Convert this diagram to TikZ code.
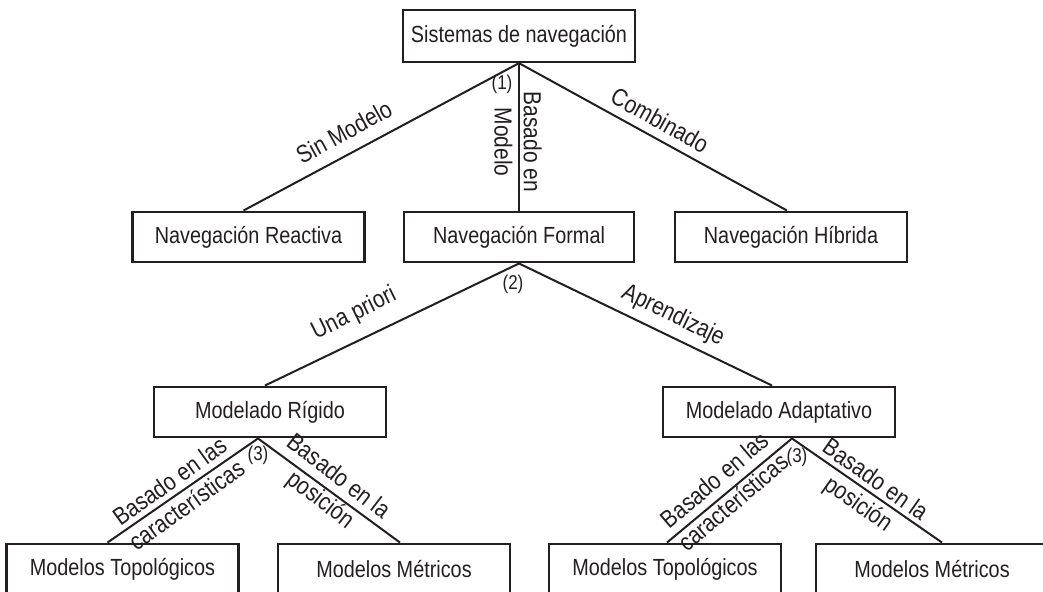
\documentclass[tikz,border=0pt]{standalone}
\usepackage{fontspec}
\setmainfont{Liberation Sans}[FakeStretch=0.85]
\usetikzlibrary{calc}

\definecolor{ink}{RGB}{35,31,32}
\tikzset{every picture/.style={line width=1.5pt}}
\tikzset{
  box/.style={draw=ink, text=ink, line width=1.7pt, inner sep=0pt,
    minimum width=174, minimum height=38, font=\fontsize{17.5}{21}\selectfont},
  lbl/.style={text=ink, inner sep=0pt, align=center,
    font=\fontsize{18.5}{22}\selectfont},
  num/.style={text=ink, inner sep=0pt, font=\fontsize{15}{18}\selectfont}
}

\begin{document}
\begin{tikzpicture}[x=0.75pt,y=0.75pt,yscale=-1,xscale=1]
\clip (0,0) rectangle (1043,592);

% Boxes
\draw (519,36) node [box, minimum height=39] (sis) {Sistemas de navegación};
\draw (248.5,237) node [box] (reac) {Navegación Reactiva};
\draw (519,237) node [box, minimum width=172.5] (formal) {Navegación Formal};
\draw (791,237) node [box] (hib) {Navegación Híbrida};
\draw (270,412) node [box] (rig) {Modelado Rígido};
\draw (779,412) node [box] (adap) {Modelado Adaptativo};
\draw (122.5,569) node [box] (topA) {Modelos Topológicos};
\draw (394,569) node [box] (metA) {Modelos Métricos};
\draw (665,569) node [box] (topB) {Modelos Topológicos};
\draw (932,569) node [box] (metB) {Modelos Métricos};

% Apex points
\coordinate (r3) at ($(rig.south)+(-12,0)$);
\coordinate (a3) at ($(adap.south)+(13,0)$);

%Straight Lines
\draw [ink] (sis.south) -- ($(reac.north)+(-5,0)$);
\draw [ink] (sis.south) -- (formal.north);
\draw [ink] (sis.south) -- ($(hib.north)+(-4,0)$);
%Straight Lines
\draw [ink] (formal.south) -- ($(rig.north)+(-5,0)$);
\draw [ink] (formal.south) -- ($(adap.north)+(-7,0)$);
%Straight Lines
\draw [ink] (r3) -- ($(topA.north)+(-15,0)$);
\draw [ink] (r3) -- ($(metA.north)+(6,0)$);
\draw [ink] (a3) -- ($(topB.north)+(2,0)$);
\draw [ink] (a3) -- ($(metB.north)+(10,0)$);

% Text Node
\draw (344,132) node [lbl, rotate=28.7] (tsin) {Sin Modelo};
% Text Node
\draw (518,142) node [lbl, rotate=-90] (tbas) {Basado en\\Modelo};
% Text Node
\draw (660,120) node [lbl, rotate=-29] (tcomb) {Combinado};
% Text Node
\draw (502,84) node [num] (n1) {(1)};
% Text Node
\draw (513,284) node [num] (n2) {(2)};
% Text Node
\draw (354,314) node [lbl, rotate=26.2] (tuna) {Una priori};
% Text Node
\draw (673,316) node [lbl, rotate=-26] (tapr) {Aprendizaje};
% Text Node
\draw (258,455) node [num] (n3a) {(3)};
% Text Node
\draw (797,457) node [num] (n3b) {(3)};
% Text Node
\draw (178,493) node [lbl, rotate=35.6] (tcarA) {Basado en las\\características};
% Text Node
\draw (329,489) node [lbl, rotate=-37.6] (tposA) {Basado en la\\posición};
% Text Node
\draw (724,491) node [lbl, rotate=40.3] (tcarB) {Basado en las\\características};
% Text Node
\draw (866,493) node [lbl, rotate=-35.2] (tposB) {Basado en la\\posición};

\end{tikzpicture}
\end{document}
